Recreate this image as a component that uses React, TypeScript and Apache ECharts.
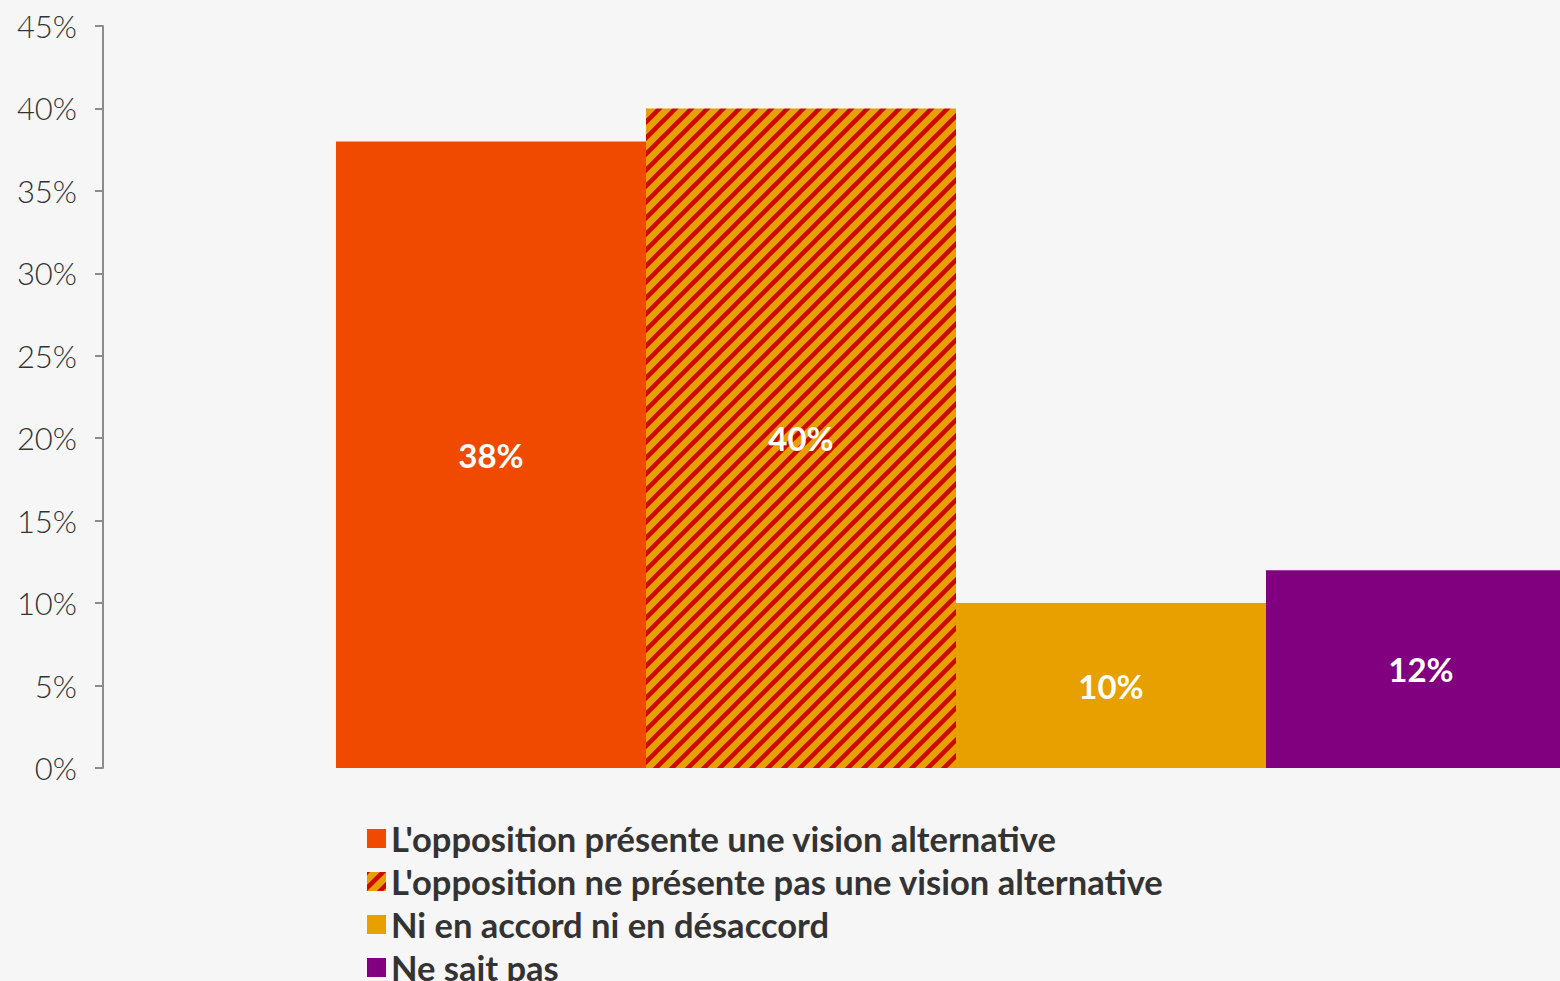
import React, { useEffect, useRef } from "react";
import * as echarts from "echarts";

const categories = [""];
const seriesNames = [
  "L'opposition présente une vision alternative",
  "L'opposition ne présente pas une vision alternative",
  "Ni en accord ni en désaccord",
  "Ne sait pas",
];
const seriesValues = [38, 40, 10, 12];
const yTicks = { min: 0, max: 45, interval: 5 };

function makeHatch(): HTMLCanvasElement {
  const s = 16;
  const c = document.createElement("canvas");
  c.width = s;
  c.height = s;
  const ctx = c.getContext("2d")!;
  ctx.fillStyle = "#E8A000";
  ctx.fillRect(0, 0, s, s);
  ctx.strokeStyle = "#CC0A00";
  ctx.lineWidth = 4.5;
  for (let k = -1; k <= 1; k++) {
    ctx.beginPath();
    ctx.moveTo(k * s - 2, s + 2);
    ctx.lineTo(k * s + s + 2, -2);
    ctx.stroke();
  }
  return c;
}

export default function App() {
  const ref = useRef<HTMLDivElement>(null);
  useEffect(() => {
    if (!ref.current) return;
    const chart = echarts.init(ref.current, null, { renderer: "svg" });
    const hatch = makeHatch();
    const colors: any[] = [
      "#EF4A00",
      { image: hatch, repeat: "repeat" },
      "#E8A000",
      "#800080",
    ];
    const font = "Lato, 'Noto Sans', sans-serif";
    chart.setOption({
      animation: false,
      backgroundColor: "#f6f6f6",
      grid: { left: 103, right: 0, top: 26, bottom: 1100 - 768, containLabel: false },
      legend: {
        orient: "vertical",
        left: 367,
        top: 821,
        padding: 0,
        itemWidth: 19,
        itemHeight: 19,
        itemGap: 8,
        icon: "rect",
        data: seriesNames,
        textStyle: {
          fontFamily: font,
          fontWeight: "bold",
          fontSize: 34.5,
          lineHeight: 30,
          color: "#333333",
        },
      },
      xAxis: {
        type: "category",
        data: categories,
        axisLine: { show: false },
        axisTick: { show: false },
        axisLabel: { show: false },
      },
      yAxis: {
        type: "value",
        min: yTicks.min,
        max: yTicks.max,
        interval: yTicks.interval,
        axisLine: { show: true, lineStyle: { color: "#8c8c8c", width: 2 } },
        axisTick: { show: true, length: 8, lineStyle: { color: "#8c8c8c", width: 2 } },
        splitLine: { show: false },
        axisLabel: {
          formatter: "{value}%",
          fontFamily: font,
          fontWeight: 300,
          fontSize: 31,
          color: "#333333",
          margin: 26,
        },
      },
      series: seriesNames.map((name, i) => ({
        name,
        type: "bar",
        barWidth: 310,
        barGap: "0%",
        data: [seriesValues[i]],
        itemStyle: { color: colors[i] },
        label: {
          show: true,
          position: "inside",
          formatter: "{c}%",
          color: "#ffffff",
          fontFamily: font,
          fontWeight: "bold",
          fontSize: 33,
        },
      })),
    });
    return () => chart.dispose();
  }, []);
  return (
    <div
      style={{
        position: "fixed",
        left: 0,
        top: 0,
        width: 1560,
        height: 981,
        overflow: "hidden",
        background: "#f6f6f6",
      }}
    >
      <div ref={ref} style={{ position: "absolute", left: 0, top: 0, width: 1809, height: 1100 }} />
    </div>
  );
}
